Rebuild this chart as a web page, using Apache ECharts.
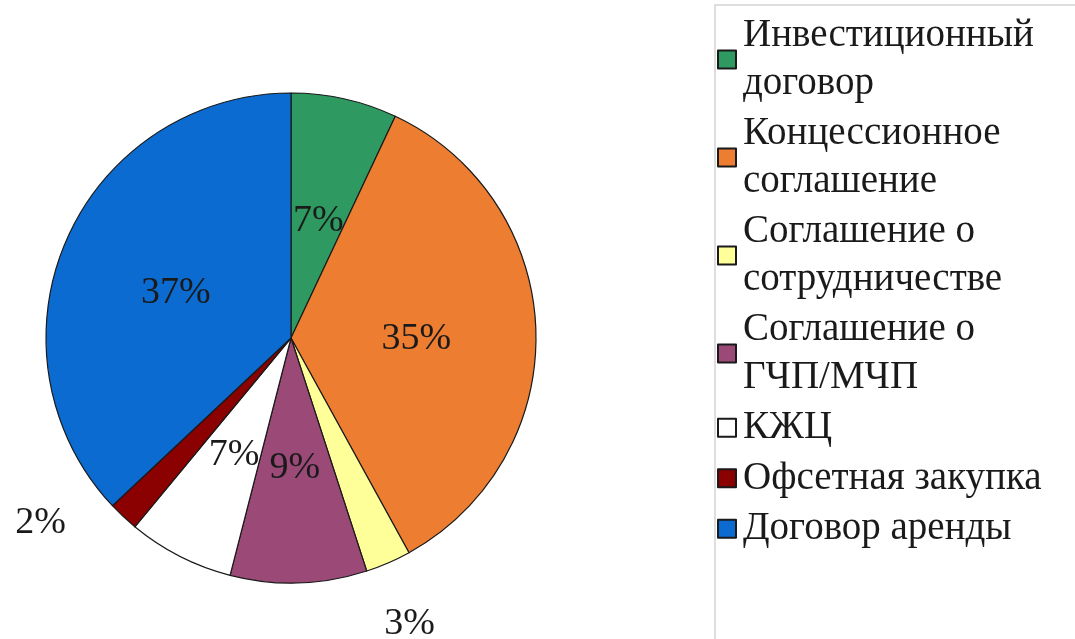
<!DOCTYPE html>
<html>
<head>
<meta charset="utf-8">
<script src="https://cdn.jsdelivr.net/npm/echarts@6/dist/echarts.min.js"></script>
<style>
  html, body { margin: 0; padding: 0; background: #fff; }
  #chart { width: 1075px; height: 639px; }
</style>
</head>
<body>
<div id="chart"></div>
<script>
// categories (legend order = slice order, clockwise from top)
var categories = [
  'Инвестиционный договор',
  'Концессионное соглашение',
  'Соглашение о сотрудничестве',
  'Соглашение о ГЧП/МЧП',
  'КЖЦ',
  'Офсетная закупка',
  'Договор аренды'
];
// legend text as wrapped in the picture
var legendLines = [
  'Инвестиционный\nдоговор',
  'Концессионное\nсоглашение',
  'Соглашение о\nсотрудничестве',
  'Соглашение о\nГЧП/МЧП',
  'КЖЦ',
  'Офсетная закупка',
  'Договор аренды'
];
var shares = [7, 35, 3, 9, 7, 2, 37];
var colors = ['#2e9a62', '#ed7d31', '#ffff99', '#9b4a78', '#ffffff', '#8b0000', '#0b6bd1'];

var chart = echarts.init(document.getElementById('chart'));

var pieData = categories.map(function (name, i) {
  var item = { name: name, value: shares[i], itemStyle: { color: colors[i] } };
  // the two thin slices carry their labels outside
  if (i === 2 || i === 5) {
    item.label = { position: 'outside' };
    item.labelLine = { show: false, length: 40, length2: 0 };
  }
  return item;
});

var option = {
  animation: false,
  textStyle: { fontFamily: '"Liberation Serif", "DejaVu Serif", serif' },
  graphic: [{
    type: 'rect',
    shape: { x: 715, y: 5, width: 400, height: 700 },
    style: { fill: 'none', stroke: '#dedede', lineWidth: 2 },
    silent: true
  }],
  legend: {
    orient: 'vertical',
    left: 717,
    top: 12,
    padding: 0,
    itemWidth: 18,
    itemHeight: 18,
    itemGap: 3,
    icon: 'rect',
    data: categories,
    formatter: function (name) {
      return legendLines[categories.indexOf(name)];
    },
    textStyle: {
      fontFamily: '"Liberation Serif", serif',
      fontSize: 39,
      lineHeight: 47.5,
      color: '#1a1a1a',
      padding: [0, 0, 0, 2]
    }
  },
  series: [{
    type: 'pie',
    center: [291, 338],
    radius: [0, 245],
    startAngle: 90,
    clockwise: true,
    data: pieData,
    itemStyle: { borderColor: '#1a1a1a', borderWidth: 1.2 },
    label: {
      position: 'inside',
      formatter: '{c}%',
      fontFamily: '"Liberation Serif", serif',
      fontSize: 38,
      color: '#1a1a1a',
      offset: [0, 5]
    },
    labelLine: { show: false },
    labelLayout: function (p) {
      // nudge the two outside labels to where the picture has them
      if (p.dataIndex === 5) return { dx: -25, dy: -28 };
      if (p.dataIndex === 2) return { dx: -25, dy: 19 };
      return {};
    },
    emphasis: { disabled: true }
  }]
};

chart.setOption(option);
</script>
</body>
</html>
